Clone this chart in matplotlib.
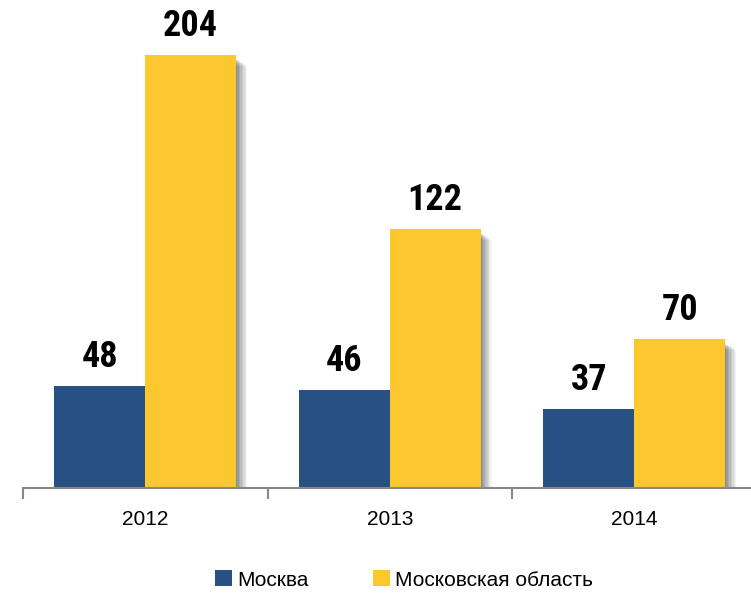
import matplotlib.pyplot as plt
import numpy as np

years = ["2012", "2013", "2014"]
moscow = [48, 46, 37]
region = [204, 122, 70]
names = ["Москва", "Московская область"]
c_blue = "#265182"
c_yellow = "#FCC72F"

plt.rcParams['font.family'] = ['Liberation Sans', 'DejaVu Sans']

fig = plt.figure(figsize=(7.51, 5.94), dpi=100)
# category width ~244.5 px, the axis runs off the right edge
ax = fig.add_axes([23/751, 1-488/594, 733.5/751, 488/594])

x = np.arange(len(years))
w = 0.372
off = 0.186

# soft shadows to the right
for k in range(8):
    d = 0.004 + k*0.006
    a = 0.10 - k*0.008
    ax.bar(x + off + d, np.array(region) - 0.6 - k*0.4, w, bottom=-1.5, color="black", alpha=a, zorder=1, lw=0)
    ax.bar(x - off + d, moscow, w, bottom=-1.5, color="black", alpha=a*0.6, zorder=1, lw=0)

ax.bar(x - off, moscow, w, color=c_blue, label=names[0], zorder=3)
ax.bar(x + off, region, w, color=c_yellow, label=names[1], zorder=3)

lab_font = ['Roboto Condensed', 'DejaVu Sans']
for i in range(len(years)):
    ax.text(x[i] - off, moscow[i] + 9, str(moscow[i]), ha="center", va="baseline",
            fontsize=26, fontweight="bold", family=lab_font)
    ax.text(x[i] + off, region[i] + 9, str(region[i]), ha="center", va="baseline",
            fontsize=26, fontweight="bold", family=lab_font)

ax.set_xlim(-0.5, 2.5)
ax.set_ylim(0, 230)
for s in ["top", "right", "left"]:
    ax.spines[s].set_visible(False)
ax.spines["bottom"].set_color("#888888")
ax.spines["bottom"].set_linewidth(1.5)
ax.spines["bottom"].set_zorder(4)
ax.set_yticks([])
ax.set_xticks([-0.5, 0.5, 1.5, 2.5])
ax.set_xticklabels([])
ax.set_xticks(x, minor=True)
ax.set_xticklabels(years, minor=True, fontsize=15)
ax.tick_params(axis="x", which="major", length=8, width=1.5, color="#888888", direction="out")
ax.tick_params(axis="x", which="minor", length=0, pad=16)

handles, labels = ax.get_legend_handles_labels()
fig.legend(handles, labels, loc="center", bbox_to_anchor=(0.538, 1-580/594), ncol=2,
           frameon=False, fontsize=15, handlelength=0.8, handleheight=0.8,
           handletextpad=0.25, columnspacing=3.1)

fig.savefig("out.png", dpi=100)
